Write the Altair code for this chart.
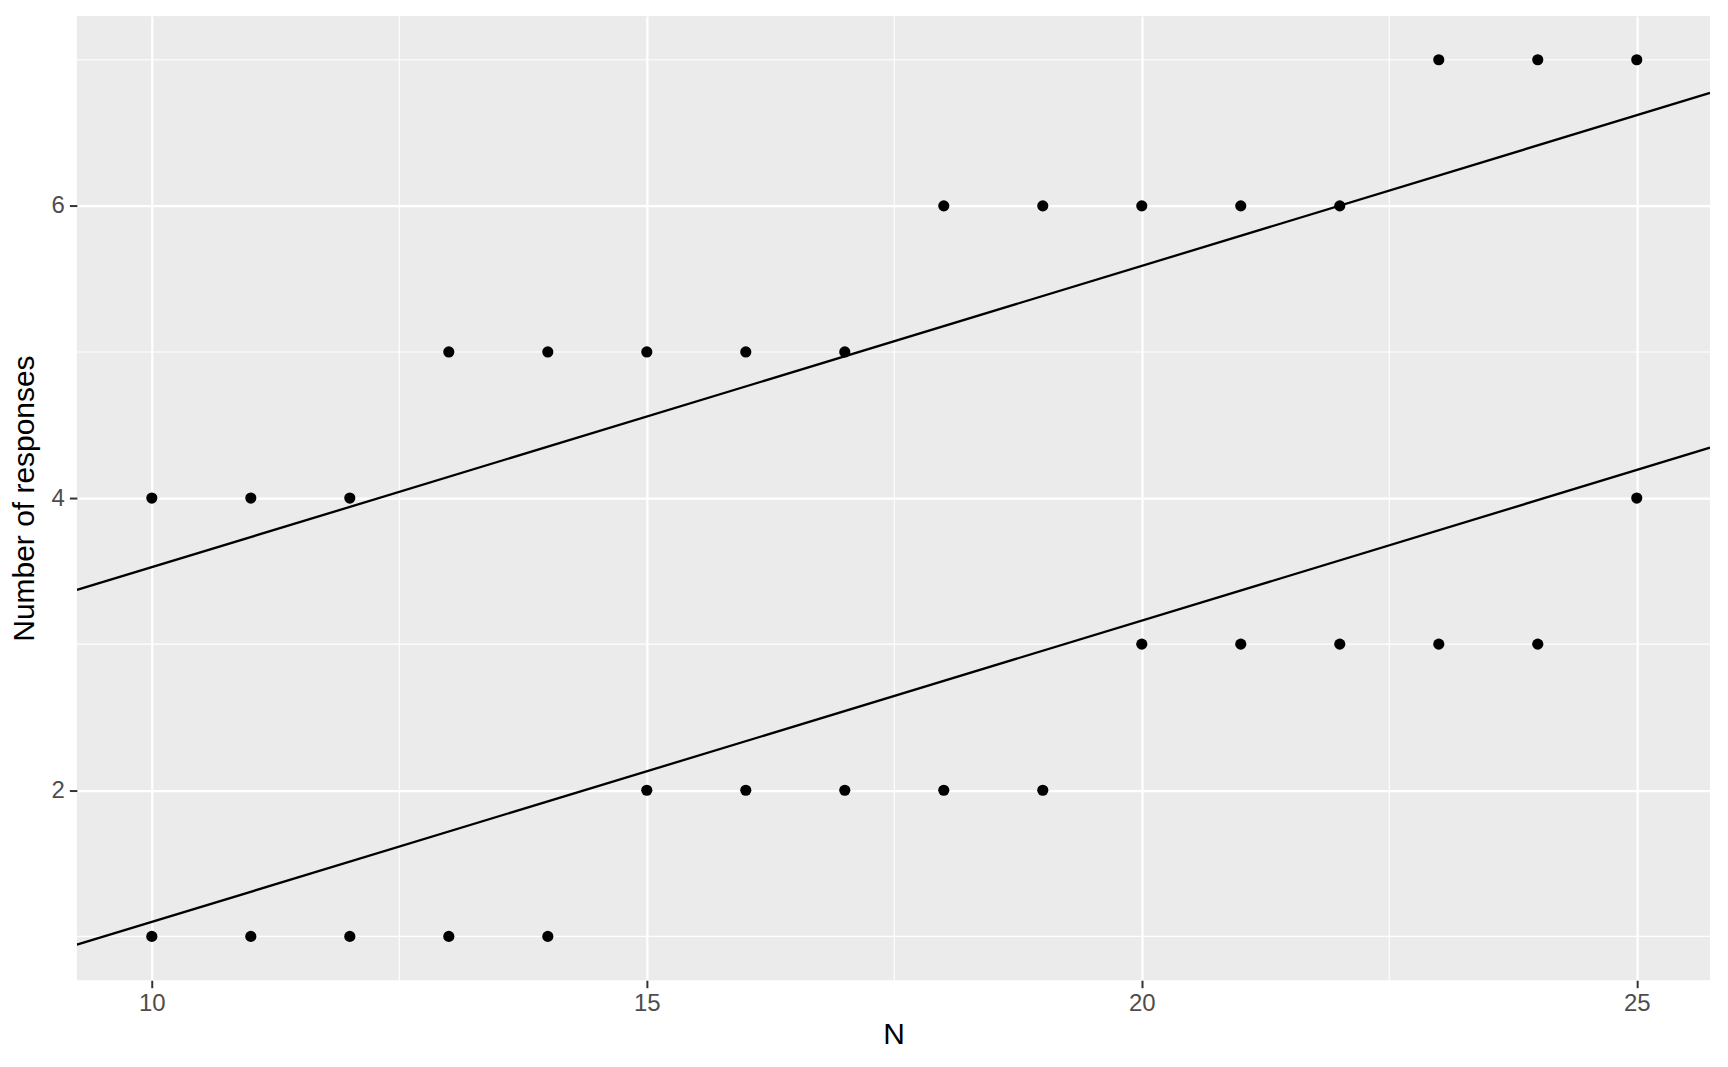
import altair as alt
import pandas as pd

# Data
n_values = [10, 11, 12, 13, 14, 15, 16, 17, 18, 19, 20, 21, 22, 23, 24, 25]
upper_resp = [4, 4, 4, 5, 5, 5, 5, 5, 6, 6, 6, 6, 6, 7, 7, 7]
lower_resp = [1, 1, 1, 1, 1, 2, 2, 2, 2, 2, 3, 3, 3, 3, 3, 4]

line_intercepts = [1.465, -0.963]
line_slope = 0.2062

x_domain = [9.243, 25.74]
y_domain = [0.7, 7.3]
x_major = [10, 15, 20, 25]
x_minor = [12.5, 17.5, 22.5]
y_major = [2, 4, 6]
y_minor = [1, 3, 5, 7]

pts = pd.DataFrame({
    "N": n_values + n_values,
    "resp": upper_resp + lower_resp,
})

lines = pd.DataFrame([
    {"line": i, "N": x, "resp": a + line_slope * x}
    for i, a in enumerate(line_intercepts)
    for x in x_domain
])

xs = alt.Scale(domain=x_domain, nice=False, zero=False)
ys = alt.Scale(domain=y_domain, nice=False, zero=False)

FONT = "Liberation Sans"

xaxis = alt.Axis(values=x_major, title="N", grid=True, gridColor="white", gridWidth=2.2,
                 domain=False, tickColor="#333333", tickWidth=2, tickSize=7.5,
                 labelColor="#4D4D4D", labelFontSize=24, labelFont=FONT, labelPadding=4,
                 titleFont=FONT, titleFontSize=30, titleFontWeight="normal", titleColor="black",
                 titlePadding=4, format="d")
yaxis = alt.Axis(values=y_major, title="Number of responses", grid=True, gridColor="white",
                 gridWidth=2.2, domain=False, tickColor="#333333", tickWidth=2, tickSize=7.5,
                 labelColor="#4D4D4D", labelFontSize=24, labelFont=FONT, labelPadding=5,
                 titleFont=FONT, titleFontSize=30, titleFontWeight="normal", titleColor="black",
                 titlePadding=12, format="d")

minor_x = alt.Chart(pd.DataFrame({"N": x_minor})).mark_rule(color="white", strokeWidth=1.1).encode(
    x=alt.X("N:Q", scale=xs, axis=xaxis))
minor_y = alt.Chart(pd.DataFrame({"resp": y_minor})).mark_rule(color="white", strokeWidth=1.1).encode(
    y=alt.Y("resp:Q", scale=ys, axis=yaxis))

line_layer = alt.Chart(lines).mark_line(color="black", strokeWidth=2.3, clip=True).encode(
    x=alt.X("N:Q", scale=xs, axis=xaxis),
    y=alt.Y("resp:Q", scale=ys, axis=yaxis),
    detail="line:N",
)

point_layer = alt.Chart(pts).mark_circle(color="black", size=125, opacity=1).encode(
    x=alt.X("N:Q", scale=xs, axis=xaxis),
    y=alt.Y("resp:Q", scale=ys, axis=yaxis),
)

chart = alt.layer(minor_x, minor_y, line_layer, point_layer).properties(
    width=1636, height=966,
    autosize=alt.AutoSizeParams(type="none"),
    padding={"left": 69, "top": 7, "right": 10, "bottom": 70},
    background="white",
).configure_view(fill="#EBEBEB", stroke=None)

chart.save("out.html", embed_options={"renderer": "svg", "actions": False})
